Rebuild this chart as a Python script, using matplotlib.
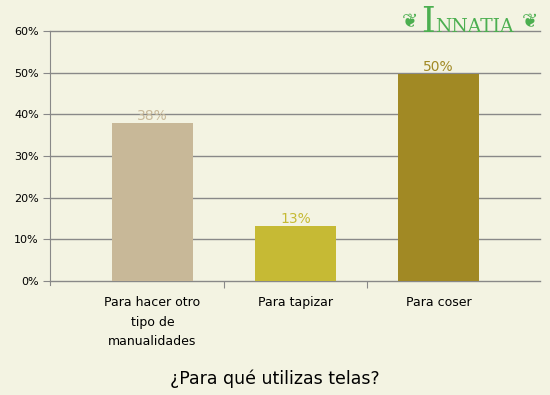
import matplotlib
matplotlib.use('Agg')
import numpy as np
import matplotlib.pyplot as plt

# data
categories = ['Para hacer otro\ntipo de\nmanualidades', 'Para tapizar', 'Para coser']
values = [37.9, 13.2, 49.6]
labels = ['38%', '13%', '50%']
colors = ['#C8B898', '#C6BA34', '#A18924']
yticks = [0, 10, 20, 30, 40, 50, 60]

bg = '#F3F3E2'
grid_col = '#888888'

fig = plt.figure(figsize=(5.5, 3.95), dpi=100, facecolor=bg)
ax = fig.add_axes([50 / 550, 1 - 281 / 395, 490 / 550, 250 / 395], facecolor=bg)

x = np.arange(len(categories))
bars = ax.bar(x, values, width=0.573, color=colors, zorder=3)

# value labels above bars, same colour as bar
for b, lab, c in zip(bars, labels, colors):
    ax.annotate(lab, (b.get_x() + b.get_width() / 2, b.get_height()),
                xytext=(0, 0), textcoords='offset points',
                ha='center', va='bottom', fontsize=10, color=c, zorder=4)

ax.set_xlim(-0.717, 2.71)
ax.set_ylim(0, 60)
ax.set_yticks(yticks)
ax.set_yticklabels(['{}%'.format(t) for t in yticks], fontsize=8, color='#000000')
for t in yticks:
    ax.axhline(t, color=grid_col, linewidth=1, zorder=1, clip_on=False)
ax.tick_params(axis='y', length=5, color=grid_col, pad=3)

# category labels as minor ticks, separators as major ticks
ax.set_xticks([0.5, 1.5])
ax.set_xticklabels([])
ax.tick_params(axis='x', which='major', length=5, color=grid_col)
ax.set_xticks(x, minor=True)
ax.set_xticklabels(categories, minor=True, fontsize=9, linespacing=1.65, va='top')
ax.tick_params(axis='x', which='minor', length=0, pad=11)

for s in ['top', 'right', 'bottom']:
    ax.spines[s].set_visible(False)
ax.spines['left'].set_color(grid_col)
ax.spines['left'].set_bounds(-0.9, 60)
ax.spines['left'].set_clip_on(False)

fig.text(0.5, 1 - 379 / 395, '¿Para qué utilizas telas?', ha='center', va='center',
         fontsize=12.5, color='#000000')

# logo
green = '#4CAF50'
fig.text(410 / 550, 1 - 22 / 395, '\u2766', ha='center', va='center', fontsize=14, color=green)
fig.text(421 / 550, 1 - 32 / 395, 'I', ha='left', va='baseline', fontsize=25,
         family='DejaVu Serif', color=green)
fig.text(435 / 550, 1 - 32 / 395, 'NNATIA', ha='left', va='baseline', fontsize=13.5,
         family='DejaVu Serif', color=green)
fig.text(530 / 550, 1 - 22 / 395, '\u2766', ha='center', va='center', fontsize=14, color=green)

fig.savefig('out.png', dpi=100, facecolor=bg)
